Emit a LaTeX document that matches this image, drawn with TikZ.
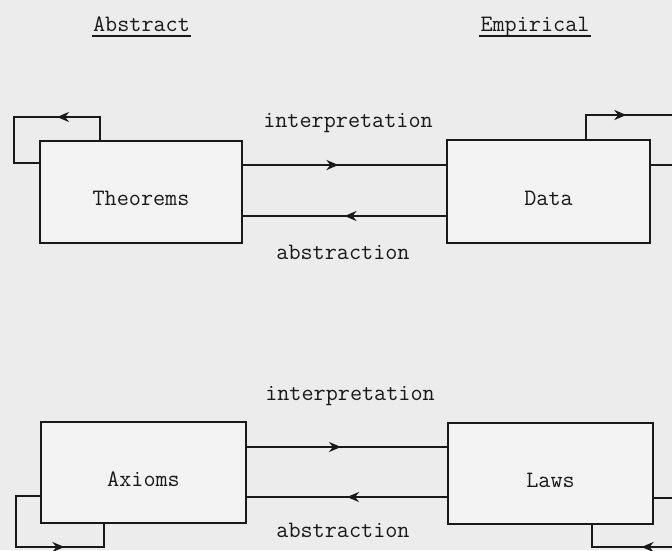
\documentclass[tikz,border=0pt]{standalone}
\usetikzlibrary{arrows.meta,decorations.markings}
\definecolor{bgc}{RGB}{236,236,236}
\definecolor{boxc}{RGB}{243,243,243}
\definecolor{inkc}{RGB}{25,25,25}
\tikzset{
  typ/.style={font=\ttfamily\fontsize{23.5}{27}\selectfont, text=inkc},
  blockbox/.style={draw=inkc, line width=2.3pt, fill=boxc, typ, inner sep=0pt,
    text height=27pt, text depth=0pt},
  wire/.style={draw=inkc, line width=2.3pt, line join=miter},
  midarrow/.style={wire, decoration={markings, mark=at position #1 with {\arrow{Stealth[length=12pt,width=10pt]}}}, postaction={decorate}},
  midarrow/.default=0.5
}
\begin{document}
\begin{tikzpicture}[x=1pt,y=-1pt]
\clip (0,0) rectangle (672,550);
\fill[bgc] (0,0) rectangle (672,550);
% titles
\node[typ, anchor=base] (abs) at (141.5,31) {Abstract};
\node[typ, anchor=base] (emp) at (535,31) {Empirical};
\draw[wire, line width=2.4pt] ([xshift=2pt]abs.base west |- 0,36) -- ([xshift=-2pt]abs.base east |- 0,36);
\draw[wire, line width=2.4pt] ([xshift=2pt]emp.base west |- 0,36) -- ([xshift=-2pt]emp.base east |- 0,36);
% boxes
\node[blockbox, minimum width=202pt, minimum height=102pt] (T) at (141,192) {Theorems};
\node[blockbox, minimum width=203pt, minimum height=103pt] (D) at (548.5,191.5) {Data};
\node[blockbox, minimum width=205pt, minimum height=101pt] (A) at (143.5,472.5) {Axioms};
\node[blockbox, minimum width=205pt, minimum height=101pt] (L) at (550.5,473.5) {Laws};
% connectors top
\draw[midarrow=0.47] (T.east |- 0,165) -- (D.west |- 0,165);
\draw[midarrow=0.5] (D.west |- 0,216) -- (T.east |- 0,216);
\node[typ, anchor=base] (i1) at (348,127) {interpretation};
\node[typ, anchor=base] (a1) at (343,259) {abstraction};
% connectors bottom
\draw[midarrow=0.47] (A.east |- 0,447) -- (L.west |- 0,447);
\draw[midarrow=0.5] (L.west |- 0,497) -- (A.east |- 0,497);
\node[typ, anchor=base] (i2) at (350,400) {interpretation};
\node[typ, anchor=base] (a2) at (343,537) {abstraction};
% self loops
\coordinate (t1) at (100,117); \coordinate (t2) at (14,117); \coordinate (t3) at (14,163);
\draw[wire] (T.north -| t1) -- (t1) -- (t2) -- (t3) -- (T.west |- t3);
\draw[midarrow=0.5] (t1) -- (t2);
\coordinate (d1) at (586,115); \coordinate (d2) at (682,115); \coordinate (d3) at (682,165);
\draw[wire] (D.north -| d1) -- (d1) -- (d2) -- (d3) -- (D.east |- d3);
\draw[midarrow=0.42] (d1) -- (d2);
\coordinate (x1) at (16,496); \coordinate (x2) at (16,547); \coordinate (x3) at (104,547);
\draw[wire] (A.west |- x1) -- (x1) -- (x2) -- (x3) -- (A.south -| x3);
\draw[midarrow=0.55] (x2) -- (x3);
\coordinate (l1) at (682,498); \coordinate (l2) at (682,547); \coordinate (l3) at (592,547);
\draw[wire] (L.east |- l1) -- (l1) -- (l2) -- (l3) -- (L.south -| l3);
\draw[midarrow=0.45] (l2) -- (l3);
\end{tikzpicture}
\end{document}
